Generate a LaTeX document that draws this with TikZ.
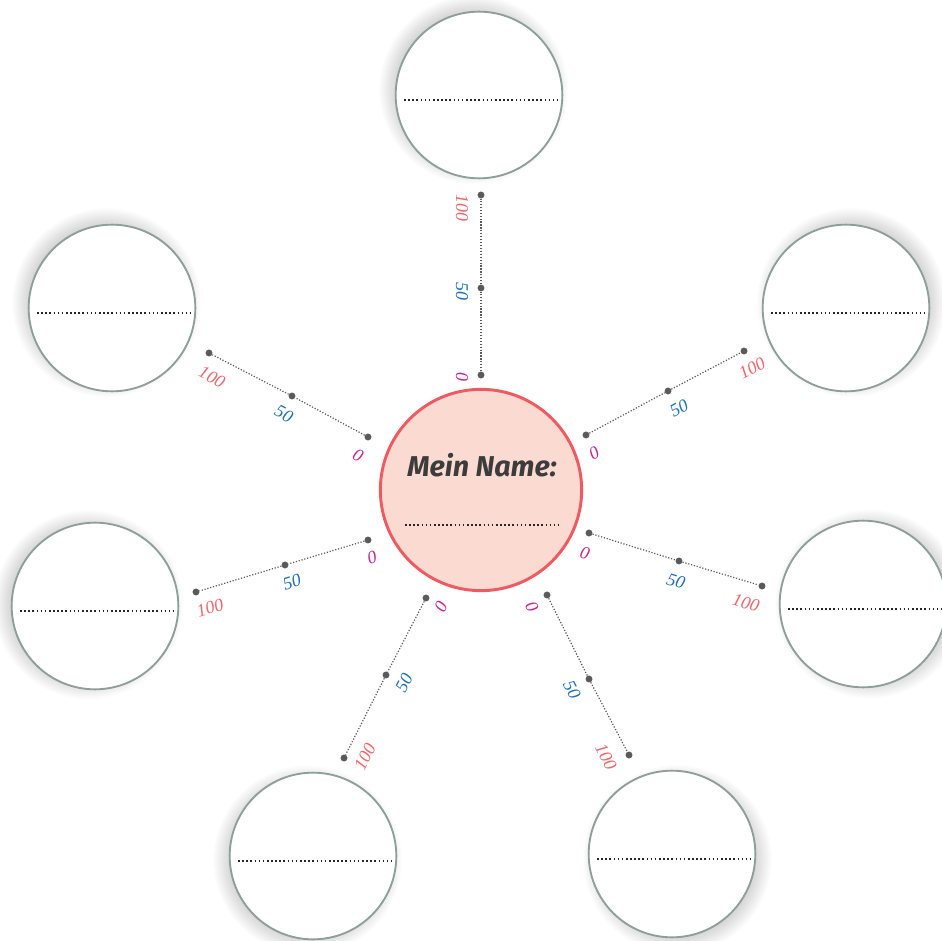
\documentclass[tikz,border=0pt]{standalone}
\usepackage{fontspec}
\setmainfont{Liberation Serif}
\newfontfamily\titlefont{Fira Sans}
\usetikzlibrary{shadows.blur}

\definecolor{ringgray}{HTML}{8F9E99}
\definecolor{centerred}{HTML}{EE5A5F}
\definecolor{centerfill}{HTML}{FBDAD2}
\definecolor{dotgray}{HTML}{5A5A5A}
\definecolor{titlegray}{HTML}{3C3C3C}
\definecolor{zerocol}{HTML}{C8238F}
\definecolor{halfcol}{HTML}{1F6FB5}
\definecolor{fullcol}{HTML}{F0646A}

\tikzset{
  satellite/.style={circle, draw=ringgray, line width=1.4pt, fill=white,
    minimum size=125pt, inner sep=0pt},
  hub/.style={circle, draw=centerred, line width=2.2pt, fill=centerfill,
    minimum size=151pt, inner sep=0pt},
  softshadow/.style 2 args={blur shadow={shadow xshift=#1, shadow yshift=#2,
    shadow blur radius=9pt, shadow blur steps=40, shadow opacity=22}},
  chord/.style={draw=black!85, line width=1.5pt, dash pattern=on 1.2pt off 1.9pt},
  tick/.style={circle, fill=dotgray, inner sep=0pt, minimum size=5.2pt},
  spokeline/.style={draw=dotgray, line width=0.9pt, dash pattern=on 0.9pt off 1.3pt},
  numlabel/.style={font=\itshape\fontsize{13.5}{13.5}\selectfont, inner sep=0pt},
  lz/.style={numlabel, text=zerocol},
  lh/.style={numlabel, text=halfcol},
  lf/.style={numlabel, text=fullcol},
}

\begin{document}
\begin{tikzpicture}[x=0.75pt,y=-0.75pt]
\useasboundingbox (0,0) rectangle (942,941);

% outer circles, each with a soft shadow pointing away from the centre
\node[satellite, softshadow={-4pt}{4pt}] (top) at (479,95) {};
\node[satellite, softshadow={-4pt}{4pt}] (ul) at (112,308) {};
\node[satellite, softshadow={4pt}{4pt}] (ur) at (846,308) {};
\node[satellite, softshadow={-5pt}{1pt}] (le) at (95,606) {};
\node[satellite, softshadow={5pt}{0pt}] (ri) at (863,604) {};
\node[satellite, softshadow={-4pt}{-3pt}] (bl) at (313,856) {};
\node[satellite, softshadow={4pt}{-4pt}] (br) at (672,854) {};

% writing lines in the outer circles
\foreach \c in {top,ul,ur,le,ri,bl,br}
  \draw[chord] ([shift={(-75,5)}]\c.center) -- ([shift={(78,5)}]\c.center);

% centre circle
\node[hub] (hubc) at (481,490) {};
\node[font=\titlefont\bfseries\itshape\fontsize{21.5}{24}\selectfont, text=titlegray] (title) at (482,465) {Mein Name:};
\draw[chord] ([shift={(-76,35)}]hubc.center) -- ([shift={(77,35)}]hubc.center);

% spokes: tick marks at 0, 50 and 100
\node[tick] (t0) at (481,375) {};  \node[tick] (t1) at (481,288) {};  \node[tick] (t2) at (481,195) {};
\node[tick] (a0) at (368,437) {};  \node[tick] (a1) at (292,396) {};  \node[tick] (a2) at (209,353) {};
\node[tick] (b0) at (586,435) {};  \node[tick] (b1) at (668,391) {};  \node[tick] (b2) at (744,351) {};
\node[tick] (c0) at (368,540) {};  \node[tick] (c1) at (285,565) {};  \node[tick] (c2) at (196,592) {};
\node[tick] (d0) at (589,533) {};  \node[tick] (d1) at (679,561) {};  \node[tick] (d2) at (762,586) {};
\node[tick] (e0) at (426,598) {};  \node[tick] (e1) at (386,675) {};  \node[tick] (e2) at (344,758) {};
\node[tick] (f0) at (547,595) {};  \node[tick] (f1) at (589,679) {};  \node[tick] (f2) at (629,755) {};

\foreach \s in {t,a,b,c,d,e,f}
  \draw[spokeline] (\s0) -- (\s1) -- (\s2);

% scale labels
\node[lz, rotate=-90] (lt0) at (462,377) {0};
\node[lh, rotate=-90] (lt1) at (462,291) {50};
\node[lf, rotate=-90] (lt2) at (462,208) {100};

\node[lz, rotate=-28] (la0) at (358,455) {0};
\node[lh, rotate=-28] (la1) at (284,414) {50};
\node[lf, rotate=-28] (la2) at (212,377) {100};

\node[lz, rotate=28] (lb0) at (594,453) {0};
\node[lh, rotate=28] (lb1) at (679,408) {50};
\node[lf, rotate=28] (lb2) at (752,368) {100};

\node[lz, rotate=17] (lc0) at (372,558) {0};
\node[lh, rotate=17] (lc1) at (292,582) {50};
\node[lf, rotate=17] (lc2) at (210,608) {100};

\node[lz, rotate=-17] (ld0) at (585,553) {0};
\node[lh, rotate=-17] (ld1) at (676,581) {50};
\node[lf, rotate=-17] (ld2) at (746,603) {100};

\node[lz, rotate=63] (le0) at (441,607) {0};
\node[lh, rotate=63] (le1) at (404,683) {50};
\node[lf, rotate=63] (le2) at (365,757) {100};

\node[lz, rotate=-63] (lf0) at (532,607) {0};
\node[lh, rotate=-63] (lf1) at (572,690) {50};
\node[lf, rotate=-63] (lf2) at (606,757) {100};
\end{tikzpicture}
\end{document}
